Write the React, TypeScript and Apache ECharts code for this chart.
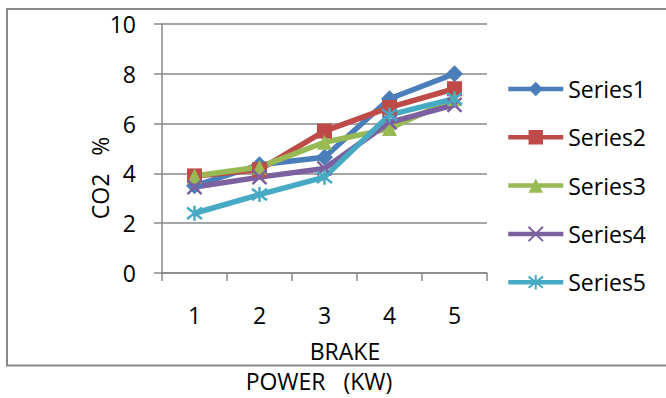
import React, { useEffect, useRef } from "react";
import * as echarts from "echarts";

const categories = ["1", "2", "3", "4", "5"];
const seriesNames = ["Series1", "Series2", "Series3", "Series4", "Series5"];
const series1 = [3.5, 4.35, 4.65, 7.0, 8.0];
const series2 = [3.9, 4.15, 5.7, 6.65, 7.4];
const series3 = [3.9, 4.25, 5.25, 5.8, 7.0];
const series4 = [3.45, 3.85, 4.2, 6.05, 6.75];
const series5 = [2.4, 3.15, 3.85, 6.35, 7.0];
const seriesValues = [series1, series2, series3, series4, series5];
const colors = ["#4a7ebb", "#be4b48", "#98b954", "#7d60a0", "#46aac5"];
const yTitle = "CO2   %";
const xTitle1 = "BRAKE";
const xTitle2 = "POWER   (KW)";

const FONT = "Open Sans";
const FS = 23;

const symbols = [
  "diamond",
  "rect",
  "triangle",
  "path://M0,0L10,10M10,0L0,10",
  "path://M0,0L10,10M10,0L0,10M5,-1.5L5,11.5",
];
const symbolSizes = [17, 15, 15, 14, 15];
const strokeWidths = [0, 0, 0, 2.5, 2.5];

export default function App() {
  const ref = useRef<HTMLDivElement>(null);
  useEffect(() => {
    if (!ref.current) return;
    const chart = echarts.init(ref.current, null, { renderer: "svg" });
    chart.setOption({
      animation: false,
      backgroundColor: "#ffffff",
      textStyle: { fontFamily: FONT },
      grid: { left: 162, top: 24, right: 179, bottom: 125, containLabel: false },
      xAxis: {
        type: "category",
        data: categories,
        boundaryGap: true,
        axisLine: { show: true, lineStyle: { color: "#888", width: 1.5 } },
        axisTick: { show: true, length: 8, alignWithLabel: false, lineStyle: { color: "#888", width: 1.5 } },
        axisLabel: { color: "#000", fontFamily: FONT, fontSize: FS, lineHeight: 24, margin: 30 },
        splitLine: { show: false },
      },
      yAxis: {
        type: "value",
        min: 0,
        max: 10,
        interval: 2,
        axisLine: { show: true, lineStyle: { color: "#888", width: 1.5 } },
        axisTick: { show: true, length: 8, lineStyle: { color: "#888", width: 1.5 } },
        axisLabel: { color: "#000", fontFamily: FONT, fontSize: FS, margin: 26 },
        splitLine: { show: true, lineStyle: { color: "#888", width: 1.5 } },
      },
      legend: {
        orient: "vertical",
        left: 506,
        top: 77,
        padding: 0,
        itemWidth: 55,
        itemHeight: 18,
        itemGap: 24.3,
        data: seriesNames,
        lineStyle: { width: 4.5 },
        textStyle: { color: "#000", fontFamily: FONT, fontSize: FS, lineHeight: 24 },
      },
      series: seriesValues.map((vals, i) => ({
        name: seriesNames[i],
        type: "line",
        data: vals,
        symbol: symbols[i],
        symbolSize: symbolSizes[i],
        lineStyle: { color: colors[i], width: 5.5 },
        itemStyle: {
          color: colors[i],
          borderColor: colors[i],
          borderWidth: strokeWidths[i],
        },
      })),
      graphic: [
        {
          type: "rect",
          shape: { x: 7, y: 9, width: 680, height: 356.5 },
          style: { fill: "none", stroke: "#888", lineWidth: 2 },
          silent: true,
        },
        {
          type: "text",
          x: 100,
          y: 178,
          rotation: Math.PI / 2,
          style: {
            text: yTitle,
            fill: "#000",
            font: `${FS}px "${FONT}"`,
            align: "center",
            verticalAlign: "middle",
          },
        },
        {
          type: "text",
          x: 345,
          y: 351,
          style: {
            text: xTitle1,
            fill: "#000",
            font: `${FS}px "${FONT}"`,
            align: "center",
            verticalAlign: "middle",
          },
        },
        {
          type: "text",
          x: 319,
          y: 381,
          style: {
            text: xTitle2,
            fill: "#000",
            font: `${FS}px "${FONT}"`,
            lineHeight: 24,
            align: "center",
            verticalAlign: "middle",
          },
        },
      ],
    });
    return () => chart.dispose();
  }, []);
  return (
    <div
      ref={ref}
      style={{ position: "absolute", left: 0, top: 0, width: 666, height: 398 }}
    />
  );
}
